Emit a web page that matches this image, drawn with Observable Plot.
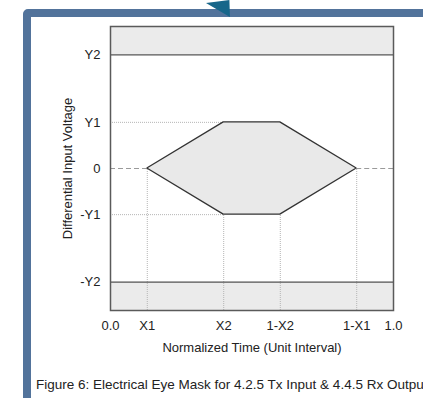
<!DOCTYPE html>
<html>
<head>
<meta charset="utf-8">
<script src="https://cdn.jsdelivr.net/npm/d3@7"></script>
<script src="https://cdn.jsdelivr.net/npm/@observablehq/plot@0.6"></script>
<style>
  html, body { margin: 0; padding: 0; background: #fff; overflow: hidden; }
  #wrap { position: relative; width: 423px; height: 398px; overflow: hidden; font-family: "Liberation Sans", Arial, Helvetica, sans-serif; }
  #bluebox { position: absolute; left: 23px; top: 9px; width: 460px; height: 386px; border: 8px solid #52739b; border-radius: 5px; background: #fff; }
  #tri { position: absolute; left: 206px; top: 0px; width: 26px; height: 17px; background: #17668a; clip-path: polygon(0% 18%, 90% 0%, 92% 100%); }
  #chart { position: absolute; left: 0; top: 0; }
  #caption { position: absolute; left: 36px; top: 377px; font-size: 13.5px; color: #222; white-space: nowrap; }
</style>
</head>
<body>
<div id="wrap">
  <div id="bluebox"></div>
  <div id="tri"></div>
  <div id="chart"></div>
  <div id="caption">Figure 6: Electrical Eye Mask for 4.2.5 Tx Input &amp; 4.4.5 Rx Output</div>
</div>
<script>
// Mask parameters (normalized)
const X1 = 0.13;
const X2 = 0.40;
const Y1 = 0.325;
const Y2 = 0.80;

const xTicks = [0, X1, X2, 1 - X2, 1 - X1, 1];
const xTickLabels = ["0.0", "X1", "X2", "1-X2", "1-X1", "1.0"];
const yTicks = [Y2, Y1, 0, -Y1, -Y2];
const yTickLabels = ["Y2", "Y1", "0", "-Y1", "-Y2"];

// Eye hexagon (upper / lower boundaries)
const eyeX = [X1, X2, 1 - X2, 1 - X1];
const eyeUpper = [0, Y1, Y1, 0];
const eyeLower = [0, -Y1, -Y1, 0];
const eye = eyeX.map((x, i) => ({x, y1: eyeLower[i], y2: eyeUpper[i]}));

// Forbidden bands
const bands = [{y1: Y2, y2: 1}, {y1: -1, y2: -Y2}];

const xFmt = v => xTickLabels[xTicks.indexOf(v)];
const yFmt = v => yTickLabels[yTicks.indexOf(v)];

const font = "'Liberation Sans', Arial, Helvetica, sans-serif";

const plot = Plot.plot({
  width: 423,
  height: 360,
  marginLeft: 110,
  marginRight: 30,
  marginTop: 26,
  marginBottom: 50,
  style: {fontFamily: font, fontSize: "13px", color: "#222", background: "transparent"},
  x: {domain: [0, 1]},
  y: {domain: [-1, 1]},
  marks: [
    Plot.rect(bands, {x1: 0, x2: 1, y1: "y1", y2: "y2", fill: "#ebebeb"}),
    // dotted guide lines
    Plot.ruleX([X1, 1 - X1], {y1: -1, y2: 0, stroke: "#b5b5b5", strokeWidth: 1, strokeDasharray: "1,1"}),
    Plot.ruleX([X2, 1 - X2], {y1: -1, y2: -Y1, stroke: "#b5b5b5", strokeWidth: 1, strokeDasharray: "1,1"}),
    Plot.ruleY([Y1, -Y1], {x1: 0, x2: X2, stroke: "#b5b5b5", strokeWidth: 1, strokeDasharray: "1,1"}),
    // dashed zero line outside the eye
    Plot.ruleY([0], {x1: 0, x2: X1, stroke: "#9a9a9a", strokeWidth: 1.2, strokeDasharray: "5,3"}),
    Plot.ruleY([0], {x1: 1 - X1, x2: 1, stroke: "#9a9a9a", strokeWidth: 1.2, strokeDasharray: "5,3"}),
    // band limits
    Plot.ruleY([Y2, -Y2], {stroke: "#555", strokeWidth: 1.3}),
    // eye mask
    Plot.areaY(eye, {x: "x", y1: "y1", y2: "y2", fill: "#e9e9e9", stroke: "#333", strokeWidth: 1.3, strokeLinejoin: "miter"}),
    Plot.frame({stroke: "#5a5a5a", strokeWidth: 1.5}),
    Plot.axisX(xTicks, {tickSize: 0, tickPadding: 10, tickFormat: xFmt, label: null, fontSize: 13}),
    Plot.axisY(yTicks, {tickSize: 0, tickPadding: 10, tickFormat: yFmt, label: null, fontSize: 13}),
    Plot.text(["Normalized Time (Unit Interval)"], {frameAnchor: "bottom", dy: 32, lineAnchor: "top", fontSize: 13, fill: "#222"}),
    Plot.text(["Differential Input Voltage"], {frameAnchor: "left", dx: -43, rotate: -90, lineAnchor: "middle", textAnchor: "middle", fontSize: 13, fill: "#222"})
  ]
});
document.getElementById("chart").appendChild(plot);
</script>
</body>
</html>
